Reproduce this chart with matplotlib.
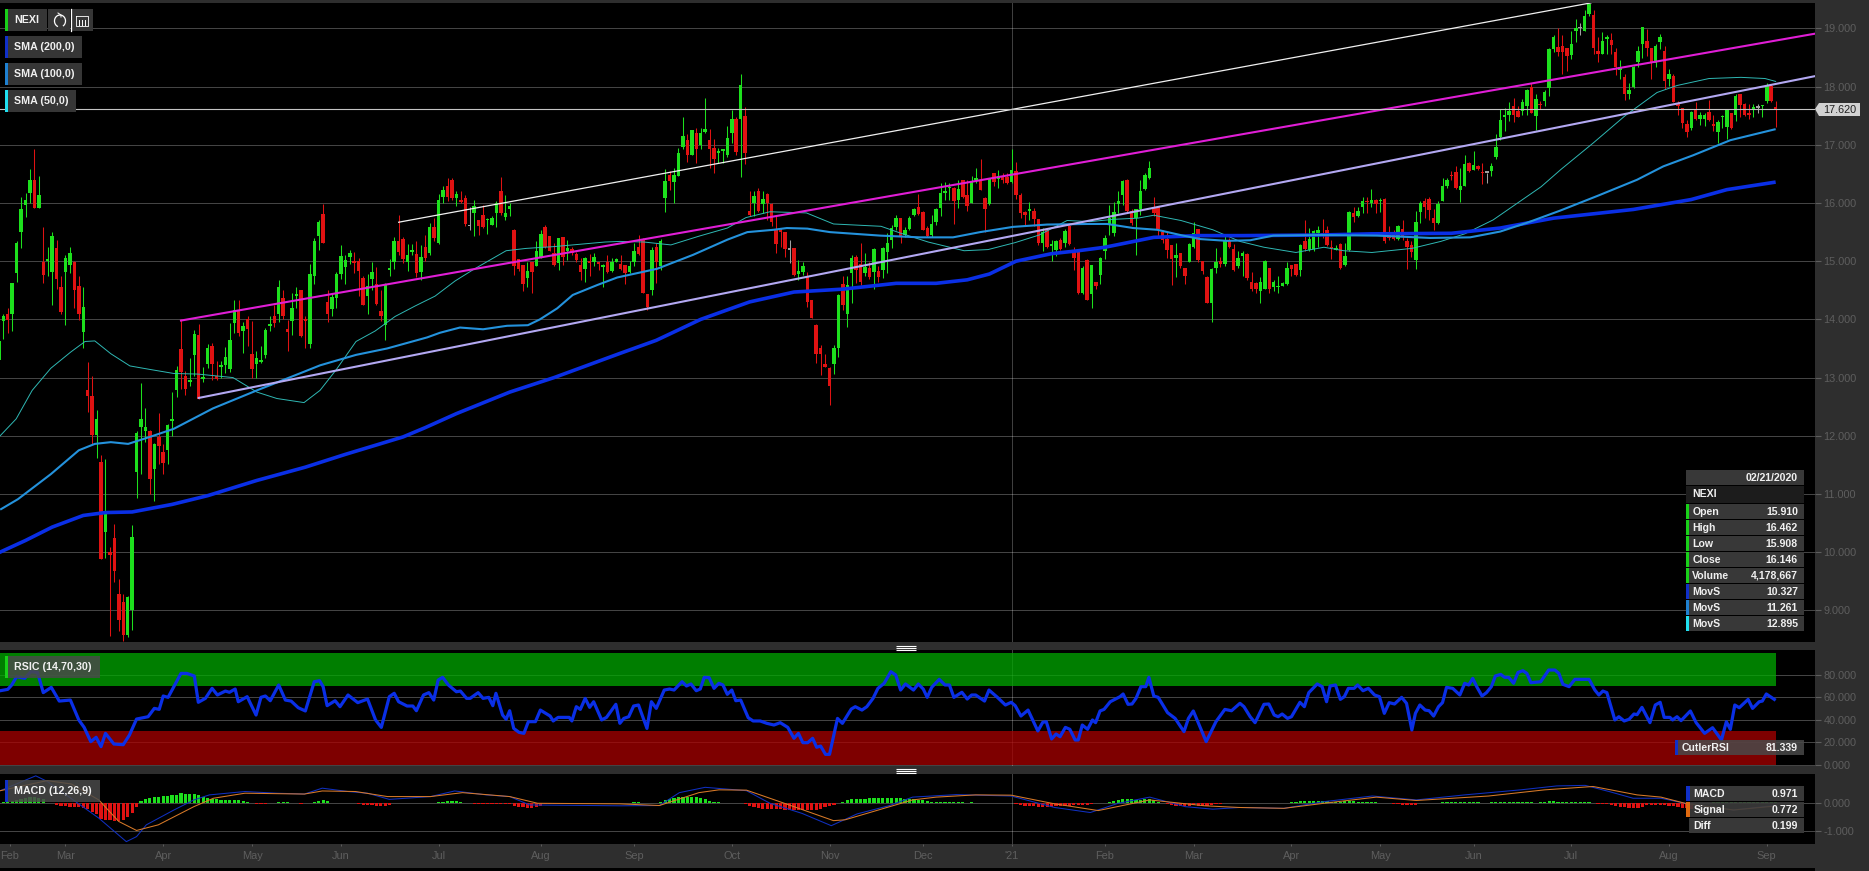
import matplotlib
matplotlib.use("Agg")
import matplotlib.pyplot as plt
from matplotlib.patches import Rectangle, Arc, Polygon

plt.rcParams['font.family'] = ['Liberation Sans', 'DejaVu Sans']

# ---- daily candles, session 0 .. 400 ----
opens = [
13.3,13.97,14.1,14.1,14.79,15.5,15.97,16.17,16.4,15.91,
14.99,15.0,14.82,15.22,14.55,14.82,14.94,14.99,14.58,13.79,
12.78,12.68,12.02,11.55,10.34,10.01,10.25,9.28,9.15,8.57,
9.0,11.37,12.15,12.09,12.09,11.43,11.98,11.72,11.75,12.25,
12.78,13.49,13.02,12.92,13.38,13.73,12.98,13.24,13.55,13.02,
13.18,13.22,13.14,13.94,14.15,13.8,14.0,13.4,13.23,13.27,
13.39,13.88,14.06,14.09,14.36,13.84,13.98,14.4,14.5,14.0,
13.57,14.74,15.44,15.81,14.3,14.17,14.36,14.78,14.9,15.08,
15.01,15.01,14.71,14.4,14.69,14.61,14.14,13.9,14.85,14.98,
15.35,15.38,14.99,15.15,15.13,14.81,15.24,15.14,15.59,15.31,
16.1,16.3,16.4,16.09,16.04,16.09,15.6,15.82,15.7,15.79,
15.7,15.63,15.83,16.2,15.76,15.9,15.54,15.03,14.94,14.71,
14.98,14.92,15.05,15.58,15.43,15.14,14.97,15.41,15.18,15.21,
15.12,14.94,14.87,15.0,14.98,14.97,14.9,14.99,14.84,14.99,
14.95,14.93,14.82,14.98,15.24,15.37,14.44,14.5,15.25,14.91,
16.09,16.49,16.36,16.47,16.97,17.08,16.83,17.21,17.0,17.22,
17.08,16.95,16.86,16.89,16.82,17.2,17.45,17.44,17.5,15.86,
16.0,16.2,15.98,16.16,15.99,15.54,15.52,15.51,15.2,15.22,
14.78,14.82,14.75,14.33,13.9,13.5,13.23,13.17,13.24,13.5,
14.61,14.1,14.8,15.08,14.95,14.79,14.88,14.82,14.83,14.85,
15.15,15.37,15.59,15.74,15.45,15.55,15.8,15.94,15.84,15.57,
15.45,15.68,15.91,16.17,16.25,16.26,16.06,16.4,16.13,16.0,
16.4,16.4,16.09,15.99,16.51,16.41,16.45,16.45,16.36,16.55,
16.14,15.84,15.87,15.87,15.73,15.31,15.54,15.26,15.2,15.36,
15.32,15.61,15.18,15.18,14.45,15.02,14.44,14.65,14.76,15.17,
15.63,15.49,15.99,16.14,16.4,15.86,15.75,15.9,16.24,16.43,
15.93,15.93,15.51,15.38,15.27,15.05,15.14,14.88,14.99,15.25,
15.55,15.0,14.72,14.29,14.89,15.01,14.96,15.34,15.21,14.91,
15.09,15.13,14.65,14.63,14.48,14.53,14.88,14.55,14.55,14.57,
14.61,14.94,14.95,14.85,15.34,15.2,15.21,15.48,15.48,15.54,
15.25,15.2,15.3,14.94,15.2,15.83,15.78,15.94,16.04,16.0,
16.06,16.03,16.07,15.48,15.47,15.38,15.55,15.34,15.28,15.02,
15.84,16.04,16.07,15.74,15.66,16.04,16.29,16.49,16.53,16.22,
16.29,16.69,16.57,16.63,16.53,16.52,16.55,16.79,17.14,17.48,
17.52,17.66,17.59,17.59,17.67,18.0,17.5,17.7,17.75,17.97,
18.65,18.69,18.7,18.66,18.54,18.95,19.0,18.95,19.25,19.24,
18.62,18.57,18.82,18.81,18.6,18.29,18.17,17.87,17.99,18.43,
18.74,18.79,18.67,18.4,18.76,18.62,18.13,18.19,17.7,17.64,
17.35,17.29,17.61,17.44,17.45,17.56,17.36,17.22,17.47,17.31,
17.54,17.51,17.87,17.71,17.54,17.62,17.63,17.66,17.75,18.02,
17.64]
highs = [
13.79,14.09,14.19,14.63,15.34,16.1,16.17,16.59,16.92,16.46,
15.59,15.25,15.51,15.37,14.74,15.11,15.24,15.0,14.74,14.55,
13.26,13.03,12.44,11.67,11.6,10.08,10.48,9.53,9.28,9.24,
10.46,12.09,12.9,12.48,12.1,11.87,12.39,11.86,12.2,12.75,
13.2,14.0,13.12,13.33,13.82,13.92,13.18,13.58,13.6,13.28,
13.28,13.52,13.94,14.34,14.33,13.95,14.05,13.97,13.45,13.55,
13.85,14.05,14.25,14.67,14.5,13.99,14.45,14.55,14.5,14.05,
14.95,15.4,15.7,15.98,14.5,14.45,14.82,15.27,15.1,15.2,
15.16,15.05,14.75,14.78,14.99,14.9,14.5,14.63,15.03,15.42,
15.8,15.42,15.3,15.3,15.35,15.27,15.45,15.65,15.75,16.15,
16.29,16.43,16.43,16.2,16.2,16.14,15.94,16.06,15.71,15.97,
15.74,15.77,16.03,16.44,16.14,16.0,15.55,15.03,14.94,14.99,
14.98,15.34,15.54,15.63,15.43,15.31,15.4,15.41,15.37,15.25,
15.15,15.05,15.07,15.12,15.14,14.98,14.96,15.11,15.05,15.06,
15.11,14.94,15.0,15.31,15.45,15.4,14.44,15.25,15.31,15.38,
16.59,16.55,16.6,16.94,17.47,17.18,17.26,17.29,17.29,17.81,
17.27,17.1,16.95,16.92,17.32,17.6,17.47,18.21,17.65,16.2,
16.2,16.26,16.2,16.17,16.0,15.77,15.57,15.51,15.37,15.22,
15.02,14.98,14.82,14.34,13.92,13.56,13.41,13.18,13.56,14.44,
14.74,14.74,15.11,15.11,15.31,15.14,14.99,15.22,14.91,15.25,
15.49,15.63,15.8,15.74,15.59,15.77,15.91,16.16,15.86,15.6,
15.8,15.91,16.35,16.36,16.35,16.28,16.39,16.4,16.4,16.47,
16.6,16.76,16.1,16.43,16.52,16.56,16.52,16.52,16.93,16.7,
16.17,15.86,16.02,15.91,15.73,15.57,15.55,15.37,15.37,15.4,
15.55,15.62,15.24,15.18,14.91,15.03,14.94,14.65,15.08,15.45,
15.97,16.01,16.2,16.4,16.41,15.89,15.9,16.39,16.52,16.72,
16.1,15.93,15.54,15.51,15.27,15.31,15.14,14.88,15.32,15.68,
15.55,15.0,14.75,14.88,15.22,15.07,15.43,15.4,15.3,15.17,
15.17,15.14,14.82,14.65,14.72,15.02,14.88,14.68,14.75,14.65,
14.99,14.94,14.95,15.3,15.7,15.57,15.54,15.6,15.72,15.6,
15.37,15.28,15.31,15.31,15.87,15.93,15.94,16.1,16.11,16.24,
16.07,16.09,16.09,15.61,15.54,15.62,15.71,15.4,15.34,15.87,
16.04,16.09,16.11,15.89,16.03,16.43,16.43,16.55,16.63,16.6,
16.83,16.7,16.89,16.66,16.69,16.52,16.69,17.18,17.62,17.64,
17.74,17.81,17.67,17.78,17.96,18.06,17.87,17.75,17.94,18.66,
18.89,19.01,18.89,18.66,18.96,19.17,19.09,19.31,19.44,19.32,
18.85,18.94,18.89,18.92,18.67,18.46,18.21,18.06,18.36,18.7,
19.03,18.99,18.67,18.73,18.9,18.7,18.31,18.21,17.75,17.64,
17.43,17.58,17.74,17.56,17.55,17.77,17.52,17.43,17.52,17.62,
17.55,17.87,17.88,17.72,17.7,17.71,17.7,17.69,18.07,18.04,
17.75]
lows = [
13.3,13.67,13.76,13.8,14.65,15.22,15.76,16.0,15.91,15.91,
14.63,14.74,14.24,14.53,14.1,13.91,14.79,14.19,13.99,13.5,
12.41,11.86,11.61,9.88,9.9,8.56,9.48,8.64,8.47,8.54,
8.66,10.93,11.34,11.9,11.0,10.87,11.52,11.34,11.52,11.99,
12.67,12.8,12.7,12.85,13.02,12.64,12.92,13.16,12.95,12.95,
13.0,13.08,13.1,13.76,13.72,13.42,13.55,13.0,13.0,13.25,
13.33,13.8,13.87,13.95,14.0,13.45,13.73,14.2,13.7,13.5,
13.5,14.6,15.2,15.31,13.95,14.05,14.2,14.7,14.6,14.95,
14.8,14.4,14.25,14.1,14.5,14.25,13.98,13.65,14.75,14.87,
15.1,14.97,14.83,15.1,14.72,14.68,15.0,15.1,15.35,15.3,
16.0,16.03,16.05,15.95,16.0,15.6,15.54,15.44,15.45,15.57,
15.47,15.62,15.59,15.8,15.71,15.77,14.76,14.84,14.48,14.56,
14.46,14.91,15.05,15.22,15.17,14.91,14.85,14.94,15.02,15.11,
14.99,14.68,14.65,14.74,14.91,14.85,14.55,14.8,14.82,14.98,
14.85,14.61,14.79,14.91,15.11,14.45,14.16,14.42,14.62,14.85,
15.84,16.23,16.0,16.46,16.92,16.7,16.83,16.69,16.92,17.21,
16.6,16.52,16.69,16.69,16.79,17.04,16.83,16.45,16.67,15.77,
15.77,15.84,15.83,15.71,15.6,15.14,15.25,15.07,14.97,14.74,
14.67,14.76,14.22,14.03,13.25,13.04,13.18,12.53,13.06,13.36,
14.16,13.87,14.28,14.62,14.59,14.74,14.69,14.53,14.65,14.71,
14.79,15.22,15.54,15.32,15.41,15.54,15.77,15.8,15.53,15.41,
15.41,15.63,15.77,16.06,16.06,15.64,15.91,16.09,15.87,16.0,
16.35,16.23,15.51,15.97,16.29,16.26,16.35,16.33,16.35,16.07,
15.74,15.6,15.71,15.61,15.28,15.17,15.22,15.0,15.09,15.19,
15.25,15.28,14.85,14.44,14.44,14.33,14.19,14.53,14.6,15.04,
15.45,15.44,15.83,15.97,15.83,15.63,15.1,15.8,16.22,16.41,
15.77,15.44,15.32,15.05,14.59,14.72,14.88,14.6,14.98,15.22,
14.98,14.78,14.29,13.95,14.79,14.9,14.91,15.22,14.84,14.88,
14.74,14.68,14.48,14.45,14.28,14.52,14.45,14.48,14.45,14.57,
14.59,14.74,14.75,14.74,15.17,15.17,15.17,15.25,15.4,15.26,
15.03,15.19,14.86,14.91,15.17,15.67,15.76,15.83,15.83,15.94,
15.83,15.84,15.31,15.37,15.36,15.37,15.37,14.86,15.08,14.86,
15.66,15.74,15.71,15.54,15.64,16.03,16.26,16.4,16.24,16.01,
16.29,16.54,16.56,16.56,16.32,16.35,16.46,16.75,17.09,17.24,
17.41,17.39,17.47,17.52,17.52,17.55,17.25,17.62,17.66,17.84,
18.6,18.53,18.21,18.27,18.47,18.77,18.89,18.95,19.22,18.56,
18.43,18.56,18.56,18.56,18.2,18.13,17.77,17.79,17.98,18.33,
18.5,18.52,18.14,18.33,18.65,17.96,18.01,17.73,17.52,17.29,
17.14,17.26,17.42,17.34,17.32,17.41,17.24,17.04,17.29,17.1,
17.28,17.41,17.48,17.5,17.44,17.48,17.54,17.48,17.72,17.74,
17.31]
closes = [
13.63,14.06,13.99,14.63,15.31,15.9,16.05,16.39,15.91,16.14,
14.76,15.02,15.44,14.7,14.13,15.05,15.14,14.51,14.09,14.22,
12.68,12.02,12.29,9.88,10.71,9.95,9.67,8.84,8.57,9.22,
10.26,12.05,12.29,12.15,11.26,11.86,11.83,11.53,12.18,12.29,
13.13,13.1,12.8,12.96,13.75,12.64,13.0,13.5,13.24,12.98,
13.22,13.36,13.65,14.16,13.76,13.88,13.83,13.15,13.34,13.3,
13.81,13.92,13.94,14.55,14.05,13.79,14.19,14.42,13.72,13.98,
14.78,15.34,15.67,15.31,14.1,14.38,14.78,15.09,15.02,15.14,
14.97,14.83,14.25,14.57,14.82,14.26,14.06,14.61,14.88,15.34,
15.16,15.03,15.11,15.2,14.79,15.08,15.05,15.58,15.4,16.06,
16.23,16.1,16.09,16.16,16.02,15.64,15.6,15.95,15.61,15.59,
15.72,15.75,16.0,15.83,15.82,15.95,14.91,14.87,14.61,14.83,
14.82,15.17,15.47,15.24,15.17,14.94,15.4,15.08,15.22,15.14,
15.02,14.81,15.05,14.97,15.08,14.95,14.92,14.82,14.98,15.04,
14.86,14.79,14.91,15.18,15.13,14.45,14.21,15.2,14.98,15.34,
16.37,16.37,16.49,16.86,17.15,16.83,17.25,16.92,17.2,17.27,
16.92,16.76,16.89,16.92,17.11,17.44,16.88,18.03,16.86,15.8,
16.12,15.86,16.07,16.0,15.67,15.3,15.5,15.21,15.2,14.76,
14.83,14.91,14.3,14.03,13.41,13.4,13.19,12.85,13.5,14.42,
14.25,14.59,15.06,14.85,14.65,14.9,14.72,15.21,14.73,15.22,
15.31,15.57,15.74,15.44,15.54,15.74,15.89,15.81,15.54,15.43,
15.64,15.89,16.17,16.2,16.28,16.03,16.24,16.1,15.95,16.37,
16.42,16.23,15.9,16.41,16.36,16.47,16.39,16.35,16.56,16.14,
15.82,15.79,15.9,15.73,15.31,15.51,15.24,15.28,15.34,15.21,
15.52,15.29,15.05,14.45,14.88,14.33,14.94,14.57,15.06,15.4,
15.74,15.84,16.03,16.37,15.86,15.66,15.89,16.2,16.49,16.6,
15.82,15.56,15.36,15.2,15.03,15.11,14.91,14.75,15.29,15.48,
15.02,14.84,14.29,14.86,14.99,14.95,15.34,15.25,14.85,15.05,
15.14,14.71,14.52,14.52,14.64,15.01,14.52,14.65,14.57,14.63,
14.88,14.87,14.76,15.28,15.21,15.38,15.52,15.54,15.45,15.28,
15.22,15.22,14.89,15.09,15.84,15.76,15.86,16.04,16.01,16.06,
15.99,16.06,15.34,15.4,15.38,15.61,15.44,15.24,15.15,15.67,
16.0,15.93,15.88,15.66,15.98,16.29,16.4,16.46,16.26,16.29,
16.67,16.55,16.65,16.59,16.51,16.52,16.63,16.96,17.43,17.52,
17.59,17.51,17.48,17.74,17.94,17.55,17.79,17.68,17.91,18.65,
18.86,18.6,18.59,18.53,18.74,19.01,19.0,19.22,19.42,18.67,
18.56,18.79,18.86,18.71,18.33,18.33,17.87,17.95,18.33,18.62,
19.02,18.66,18.41,18.7,18.86,18.1,18.21,17.74,17.66,17.37,
17.22,17.57,17.44,17.51,17.51,17.43,17.33,17.39,17.48,17.6,
17.29,17.84,17.68,17.52,17.52,17.64,17.63,17.67,18.02,17.75,
17.62]
assert len(opens) == len(highs) == len(lows) == len(closes), (len(opens), len(highs), len(lows), len(closes))

# ---- moving averages: session, value ----
sma200_x = [0,6,12,19,24,30,39,47,58,69,78,91,96,103,115,125,140,148,158,169,179,190,202,211,218,223,229,237,243,249,260,270,280,297,309,327,338,350,368,381,389,400]
sma200_y = [9.99,10.2,10.43,10.63,10.68,10.69,10.82,10.97,11.23,11.46,11.68,11.98,12.14,12.38,12.75,13.0,13.42,13.64,14.0,14.3,14.47,14.52,14.62,14.62,14.68,14.78,15.0,15.13,15.18,15.24,15.41,15.44,15.44,15.45,15.47,15.48,15.57,15.74,15.89,16.06,16.23,16.36]
sma100_x = [0.3,4.3,11.7,18,21.6,25.2,29.1,34,39.4,48.2,58.1,68.7,72.3,80.4,87.4,96.4,99.3,103.8,109,114.4,119.1,121.8,125.7,129.2,134.7,139.2,148.2,156.3,164,168.5,174.4,177.4,182,187.1,198.4,207.4,214.8,220.9,228.3,236,245,249.5,255.4,260.8,266,270.5,276.5,281.7,286.9,297.4,310.3,322.2,331.2,338,344,351.5,359.8,368.8,374.7,381.4,389.8,400]
sma100_y = [10.73,10.91,11.34,11.75,11.86,11.89,11.86,11.98,12.12,12.47,12.78,13.1,13.21,13.39,13.5,13.69,13.77,13.86,13.83,13.89,13.9,14.0,14.19,14.42,14.59,14.72,14.87,15.11,15.37,15.5,15.54,15.57,15.56,15.5,15.44,15.41,15.41,15.5,15.59,15.63,15.64,15.64,15.57,15.54,15.45,15.38,15.35,15.36,15.44,15.45,15.44,15.4,15.41,15.51,15.66,15.87,16.12,16.4,16.63,16.82,17.08,17.27]
sma50_x = [0.3,3.9,7.5,11.7,16.2,19.4,21.6,25.2,29.5,34,39.4,44.8,52.7,58.1,62.6,68.7,72.3,75.9,80.4,84.7,89.2,93.7,98.2,102.7,106.9,114.2,118.7,124.8,136.5,139.8,145.2,151.3,157.6,164,168.2,173.6,181.8,187.9,198.6,203.1,209.2,217.3,222.7,228.8,234.2,240.5,245.6,251,256.4,260,266.1,273.3,279.4,284.8,292,298.3,302.8,309.1,318.1,324.6,330,336.4,347.2,351.7,358.9,366.1,373.3,377.8,385,392.2,397.6,400]
sma50_y = [12.0,12.29,12.78,13.16,13.44,13.62,13.63,13.41,13.2,13.14,13.07,13.06,13.0,12.75,12.64,12.57,12.78,13.13,13.62,13.8,14.05,14.23,14.4,14.66,14.86,15.18,15.22,15.25,15.33,15.34,15.33,15.28,15.43,15.57,15.75,15.85,15.83,15.64,15.6,15.48,15.33,15.18,15.2,15.32,15.45,15.7,15.68,15.72,15.74,15.79,15.7,15.54,15.34,15.24,15.15,15.24,15.18,15.15,15.22,15.34,15.47,15.71,16.28,16.58,17.03,17.5,17.9,18.02,18.14,18.16,18.14,18.09]

# ---- drawn trend lines: two ends, session, price ----
magenta_x, magenta_y = [41, 408.8], [13.98, 18.91]
lavender_x, lavender_y = [45, 408.8], [12.65, 18.18]
white_x, white_y = [90, 358.4], [15.67, 19.44]
last_price = 17.62
year_session = 228

# ---- RSI ----
rsi_x = [0.3,2.0,2.9,4.0,5.8,7.2,8.7,10.0,11.8,13.6,16.1,18.0,19.2,20.7,21.9,23.0,24.0,25.9,28.0,29.4,31.0,33.6,35.0,36.1,37.0,38.1,39.6,41.0,42.3,44.0,44.9,46.5,48.0,49.2,51.0,51.9,53.2,53.9,55.9,57.9,59.0,60.0,61.1,63.0,64.5,65.8,67.4,69.0,71.0,72.2,73.0,73.9,75.7,76.8,78.6,80.8,83.0,84.8,86.1,87.9,89.0,90.0,91.9,93.2,94.0,95.6,96.8,97.9,98.9,99.9,101.2,103.0,103.9,105.3,106.1,107.9,109.0,110.3,111.2,111.9,113.4,114.2,115.0,115.9,117.1,118.2,119.2,120.8,121.9,124.1,124.8,125.9,128.4,129.0,130.0,130.9,132.0,133.0,133.9,135.7,136.8,138.9,
139.8,140.7,141.8,142.9,144.0,145.9,146.9,148.0,149.8,151.0,152.0,153.8,154.8,155.8,157.0,157.9,158.8,159.9,161.0,162.1,163.0,164.0,165.0,165.9,167.0,168.7,169.8,171.4,172.9,174.5,175.9,177.6,179.0,180.0,181.0,182.1,183.2,184.1,185.0,186.1,187.0,188.8,189.9,191.9,192.8,194.3,195.4,196.8,197.9,199.3,200.8,201.9,203.0,204.1,205.9,207.0,208.1,209.0,210.0,211.7,213.0,214.0,215.0,216.8,218.0,219.0,219.9,221.9,222.9,224.8,226.6,227.9,228.8,230.1,231.7,233.9,235.0,235.8,237.0,238.0,238.9,240.1,241.1,242.3,243.0,243.9,245.1,246.2,246.9,247.9,248.8,250.2,252.4,253.1,254.2,255.1,256.0,257.1,258.2,258.9,260.0,261.0,263.1,264.8,266.8,267.8,268.9,271.8,274.0,276.0,277.5,
279.4,280.3,281.7,282.8,284.8,285.9,287.1,288.0,288.9,290.1,291.0,292.9,293.9,294.9,296.8,297.9,298.9,299.7,300.9,302.0,302.9,303.8,305.1,305.9,307.1,308.3,309.7,310.8,311.9,313.0,314.2,315.8,316.9,318.1,318.9,319.9,321.1,322.0,323.0,324.1,325.0,325.9,327.3,328.9,330.0,330.9,331.8,332.7,333.9,334.9,336.0,336.9,338.1,339.0,339.9,341.0,342.0,343.1,344.0,344.9,347.1,348.9,350.3,351.2,352.1,353.5,354.8,358.0,359.3,360.2,361.1,362.0,363.8,364.7,365.9,367.0,368.1,368.8,369.9,371.7,372.9,374.0,374.9,376.2,376.8,377.8,378.7,380.8,382.1,384.0,385.8,387.8,388.9,389.8,390.8,391.8,393.8,394.8,396.3,397.0,397.9,399.7]
rsi_y = [65.6,66.8,70.7,78.1,76.6,82.5,81.9,63.9,68.6,56.4,57.3,39.6,33.0,20.3,24.2,15.9,27.7,18.2,17.6,26.2,40.4,42.5,49.9,49.0,60.9,59.7,70.7,81.0,81.0,78.7,55.3,58.8,67.7,61.8,65.3,64.2,67.1,55.8,60.3,44.0,59.7,60.9,56.7,70.7,57.3,56.4,50.5,47.6,73.6,74.5,69.2,52.3,56.7,51.4,61.8,55.0,58.2,39.6,33.0,60.3,63.3,55.8,52.0,52.0,47.8,61.8,63.9,57.3,75.1,77.5,70.7,64.7,65.3,58.8,58.8,63.9,58.8,59.7,52.3,63.3,44.0,40.2,47.8,32.1,28.6,27.7,38.1,38.1,48.4,43.1,38.7,41.9,41.9,38.7,51.4,49.0,58.8,50.8,55.8,39.6,41.9,53.5,
36.6,41.0,42.5,52.0,52.9,32.1,55.8,49.9,66.2,67.1,66.2,73.6,69.8,71.6,65.6,67.1,77.5,77.2,67.7,72.2,70.7,62.4,66.2,56.7,57.3,41.6,38.7,38.7,36.6,35.1,37.2,33.0,23.3,27.7,19.4,19.4,23.3,15.3,16.4,9.0,9.0,41.0,36.6,49.3,51.4,48.4,51.4,58.8,67.7,72.2,82.5,79.6,66.2,71.6,66.2,71.6,67.1,59.7,68.6,75.7,70.7,70.7,59.7,64.2,58.2,61.8,61.8,56.4,66.2,59.7,52.9,55.3,52.3,43.1,48.4,29.8,37.5,38.1,22.7,27.1,24.7,33.0,31.3,21.8,21.8,35.1,31.3,39.6,37.2,47.6,49.0,55.8,60.3,62.7,53.5,53.8,58.8,69.2,69.2,77.5,60.9,59.7,46.1,41.0,29.2,41.0,47.6,20.3,38.1,49.0,47.8,
54.4,51.4,42.5,37.2,53.5,53.8,44.0,42.5,44.9,41.0,42.5,55.3,51.4,63.9,71.6,69.2,55.8,69.8,70.7,57.9,60.3,67.7,67.7,70.7,65.6,67.7,61.8,60.3,45.5,55.0,53.8,59.7,54.4,30.7,45.5,52.9,48.4,47.8,43.1,51.4,55.0,68.6,67.7,61.8,72.2,70.7,76.6,69.2,60.9,63.9,69.2,78.7,80.1,77.5,77.5,72.2,81.9,83.4,81.0,72.7,73.6,84.0,84.0,81.0,71.3,69.2,75.7,75.7,66.2,61.8,65.3,63.9,39.6,42.5,38.7,40.2,44.9,44.3,50.8,37.2,52.9,55.3,41.9,41.9,39.6,42.5,39.0,47.6,37.2,27.7,32.7,21.8,38.1,31.3,52.9,50.5,57.9,49.9,55.8,56.4,62.7,57.9]
assert len(rsi_x) == len(rsi_y), (len(rsi_x), len(rsi_y))

# ---- MACD ----
macd_x = [0.3,8.3,10.9,22.5,28.7,31,33.2,39.4,43.9,47.4,55.4,62.5,68.8,72.8,78.6,83,87.9,97.2,102.6,109.7,115,119.5,133.7,139.8,148.7,153.2,159,168.3,173.6,180.8,187.4,193.2,200.3,205.7,215.5,227.9,237.7,245.7,252,259.1,267.1,273.3,279.3,289.3,298.4,309.2,319.1,330,342.6,350.7,357.1,362.5,367.9,374.2,379.6,390.5,399.7]
macd_y = [0.45,0.98,0.78,-0.53,-1.37,-1.19,-0.77,-0.24,0.12,0.3,0.42,0.36,0.33,0.54,0.42,0.36,0.14,0.24,0.44,0.3,0.24,-0.06,-0.08,-0.09,-0.08,0.38,0.57,0.45,0,-0.36,-0.8,-0.38,-0.09,0.22,0.31,0.26,-0.15,-0.33,0,0.22,-0.12,-0.21,-0.15,-0.18,0.06,0.26,0.12,0.3,0.48,0.62,0.64,0.42,0.18,0.18,0,-0.24,-0.08]
signal_x = [0.3,10.9,16.3,22.5,27,31,35.9,43.9,48.3,55.4,68.8,72.8,80.3,87.5,97.2,104.4,115,121.3,139.8,148.7,157.6,162.1,168.3,177.2,187.9,190.5,205.7,211,219.9,227.9,237.7,247.5,259.1,271.5,279.3,289.3,299.3,310.1,319.1,335.4,348,358.9,368.8,374.2,379.6,390.5,399.7]
signal_y = [0.45,0.81,0.69,0.12,-0.65,-0.97,-0.77,-0.12,0.18,0.36,0.33,0.44,0.42,0.24,0.24,0.38,0.24,0,-0.02,-0.08,0.38,0.48,0.47,-0.02,-0.62,-0.59,0.12,0.22,0.3,0.29,-0.02,-0.26,0.12,-0.09,-0.15,-0.18,0.02,0.22,0.1,0.26,0.48,0.6,0.3,0.22,0,-0.24,-0.1]
# runs of the histogram: first session, values per session
hist_runs = [
 (0,[0.03,0.03,0.05,0.08,0.12,0.17,0.2,0.22,0.22,0.2,0.15]),
 (13,[-0.05,-0.08,-0.1,-0.12,-0.13,-0.15,-0.17,-0.2,-0.3,-0.4,-0.55,-0.6,-0.6,-0.62,-0.62,-0.6,-0.5,-0.35,-0.15]),
 (32,[0.08,0.14,0.18,0.22,0.24,0.25,0.27,0.29,0.3,0.35,0.34,0.33,0.33,0.28,0.24,0.2,0.17,0.15,0.12,0.1,0.12,0.12,0.11,0.08,0.04]),
 (58,[-0.01,-0.03,-0.02]),
 (63,[0.04,0.05,0.03,0.02]),
 (68,[-0.03]),
 (71,[0.05,0.09,0.1,0.08]),
 (81,[-0.04,-0.05,-0.06,-0.06,-0.08,-0.1,-0.09,-0.07]),
 (98,[0.02,0.04,0.06,0.07,0.07,0.07,0.05,0.02]),
 (107,[-0.02,-0.03,-0.04,-0.03,-0.02,-0.03,-0.03,-0.02,-0.03,-0.08,-0.12,-0.15,-0.18,-0.18,-0.15,-0.08]),
 (123,[-0.02,-0.02,-0.03,-0.02,-0.02,-0.03,-0.02,-0.02]),
 (143,[0.03,0.03]),
 (149,[0.04,0.12,0.15,0.2,0.22,0.22,0.24,0.22,0.22,0.2,0.14,0.08,0.06,0.03]),
 (168,[-0.03,-0.1,-0.12,-0.16,-0.2,-0.2,-0.2,-0.2,-0.2,-0.24,-0.24,-0.24,-0.24,-0.24,-0.24,-0.24,-0.24,-0.22,-0.15,-0.1,-0.05]),
 (190,[0.06,0.1,0.14,0.15,0.17,0.17,0.18,0.18,0.18,0.19,0.19,0.18,0.18,0.18,0.17,0.15,0.14,0.12,0.1,0.08,0.06,0.06,0.06,0.05,0.05,0.04,0.03,0.03,0.02,0.03,0.02]),
 (229,[-0.03,-0.07,-0.08,-0.1,-0.11,-0.12,-0.12,-0.13,-0.12,-0.11,-0.1,-0.1,-0.08,-0.07,-0.06,-0.05,-0.05,-0.03]),
 (250,[0.03,0.08,0.12,0.14,0.16,0.14,0.12,0.12,0.14,0.16,0.12,0.06]),
 (263,[-0.04,-0.07,-0.08,-0.08,-0.08,-0.08,-0.07,-0.08,-0.08,-0.1,-0.07,-0.04,-0.02]),
 (290,[0.01,0.03,0.05,0.07,0.08,0.09,0.09,0.09,0.08,0.07,0.06,0.05,0.06,0.08,0.08,0.07,0.06,0.06,0.05,0.04,0.03]),
 (314,[-0.03,-0.04,-0.05,-0.06,-0.07,-0.05]),
 (325,[0.03,0.04,0.05,0.05,0.05,0.04,0.05,0.04,0.03,0.02,0.02,0.03,0.05,0.05,0.06,0.06,0.06,0.05,0.04,0.03,0.03,0.02,0.03,0.06,0.07,0.07,0.05,0.04,0.03,0.03,0.03,0.03,0.03,0.03]),
 (360,[-0.02,-0.03,-0.04,-0.06,-0.09,-0.12,-0.15,-0.17,-0.18,-0.17,-0.12,-0.06,-0.06,-0.05,-0.05,-0.07,-0.08,-0.1,-0.13,-0.16,-0.18,-0.2]),
 (386,[0.03,0.03,0.03,0.03,0.03,0.03,0.03,0.03,0.03,0.03,0.03,0.03,0.03,0.03,0.03]),
]

month_sessions = [2.4,15,37,57,77,99,122,143,165,187,208,228,249,269,291,311,332,354,376,398]
month_labels = ['Feb','Mar','Apr','May','Jun','Jul','Aug','Sep','Oct','Nov','Dec',"'21",'Feb','Mar','Apr','May','Jun','Jul','Aug','Sep']
price_ticks = [9,10,11,12,13,14,15,16,17,18,19]
rsi_ticks = [0,20,40,60,80]
macd_ticks = [-1,0]

info_labels = ['Open','High','Low','Close','Volume','MovS','MovS','MovS']
info_values = ['15.910','16.462','15.908','16.146','4,178,667','10.327','11.261','12.895']

# ---- layout (pixels) ----
W, H = 1869, 871
BG = '#2e2e2e'
TXT = '#5e5e5e'
GREEN, RED, GREY = '#1de01d', '#e01212', '#a0a0a0'
BLUE, MID, CYAN = '#0a2fe6', '#2492dc', '#2fb8b4'
X0 = 1 - 3.3 / 4.442
X1 = 1 + (1815 - 3.3) / 4.442

fig = plt.figure(figsize=(W / 100, H / 100), dpi=100, facecolor=BG)

def pane(top, bottom):
    ax = fig.add_axes([0, 1 - bottom / H, 1815 / W, (bottom - top) / H], facecolor='black')
    ax.set_xlim(X0, X1)
    for s in ax.spines.values():
        s.set_visible(False)
    ax.yaxis.tick_right()
    ax.tick_params(axis='y', length=4, width=0.8, color=TXT, labelcolor=TXT, labelsize=7.8, pad=2)
    ax.grid(True, axis='y', color='white', alpha=0.27, lw=0.75, zorder=2)
    ax.set_axisbelow(False)
    ax.set_xticks([])
    ax.axvline(year_session, color='white', alpha=0.25, lw=0.75, zorder=2)
    return ax

# main pane
ax = pane(3, 642)
ax.set_ylim(8.455, 19.438)
ax.set_yticks(price_ticks)
ax.set_yticklabels([f'{v:.3f}' for v in price_ticks])
sessions = list(range(len(opens)))
cols = [GREEN if c > o else (RED if c < o else GREY) for o, c in zip(opens, closes)]
ax.vlines(sessions, lows, highs, colors=cols, lw=0.75, zorder=3)
ax.bar(sessions, [max(abs(c - o), 0.03) for o, c in zip(opens, closes)],
       bottom=[min(o, c) for o, c in zip(opens, closes)],
       width=0.78, color=cols, linewidth=0, zorder=4)
ax.plot(sma50_x, sma50_y, color=CYAN, lw=0.7, zorder=5)
ax.plot(sma200_x, sma200_y, color=BLUE, lw=2.6, zorder=5, solid_capstyle='butt')
ax.plot(sma100_x, sma100_y, color=MID, lw=1.5, zorder=5, solid_capstyle='butt')
ax.plot(magenta_x, magenta_y, color='#e01ed6', lw=1.5, zorder=6)
ax.plot(lavender_x, lavender_y, color='#b3a8f2', lw=1.5, zorder=6)
ax.plot(white_x, white_y, color='#f0f0f0', lw=0.9, zorder=6)
ax.axhline(last_price, color='#c4c4c4', lw=0.8, zorder=6)

# RSI pane: bands sit above the grid, translucent, so the lines show faintly
ar = pane(650, 766)
ar.set_ylim(-1.33, 101.8)
ar.set_yticks(rsi_ticks)
ar.set_yticklabels([f'{v:.3f}' for v in rsi_ticks])
ar.add_patch(Rectangle((X0, 70), 400 - X0, 29.5, facecolor='#00aa00', alpha=0.75, lw=0, zorder=3))
ar.add_patch(Rectangle((X0, 0), 400 - X0, 30, facecolor='#aa0000', alpha=0.75, lw=0, zorder=3))
ar.plot(rsi_x, rsi_y, color=BLUE, lw=2.3, zorder=4)

# MACD pane
am = pane(774, 844)
am.set_ylim(-1.454, 1.046)
am.set_yticks(macd_ticks)
am.set_yticklabels([f'{v:.3f}' for v in macd_ticks])
for start, vals in hist_runs:
    xs = [start + k for k in range(len(vals))]
    am.bar(xs, vals, width=0.72, color=[GREEN if v > 0 else RED for v in vals], linewidth=0, zorder=3)
am.plot(macd_x, macd_y, color='#1030c0', lw=0.75, zorder=4)
am.plot(signal_x, signal_y, color='#d87a28', lw=0.75, zorder=5)
am.set_xticks(month_sessions)
am.set_xticklabels(month_labels)
am.tick_params(axis='x', length=1.6, width=0.7, color=TXT, labelcolor=TXT, labelsize=7.9, pad=3.5)

# ---- interface chrome, in pixel coordinates ----
ov = fig.add_axes([0, 0, 1, 1], facecolor='none', zorder=20)
ov.set_xlim(0, W)
ov.set_ylim(H, 0)
ov.axis('off')

def box(x0, y0, x1, y1, color, alpha=1.0, z=1):
    ov.add_patch(Rectangle((x0, y0), x1 - x0, y1 - y0, facecolor=color, edgecolor='none', alpha=alpha, zorder=z))

def txt(x, y, s, ha='left', size=7.7, color='#f0f0f0', weight='bold'):
    ov.text(x, y, s, ha=ha, va='center', fontsize=size, color=color, weight=weight, zorder=5)

box(0, 868, 1815, 871, 'black')

# legend chips
chips = [('NEXI', 9, 31, 47, '#19d019'), ('SMA (200,0)', 36, 58, 82, '#1030c8'),
         ('SMA (100,0)', 63, 85, 82, '#1f80d0'), ('SMA (50,0)', 90, 112, 76, '#20e0f0')]
for label, y0, y1, x1, col in chips:
    box(5, y0, x1, y1, '#363636')
    box(5, y0, 8, y1, col, z=2)
    txt(14, (y0 + y1) / 2 + 0.3, label)
box(47.5, 9, 70, 31, '#363636')
box(71.5, 9, 93, 31, '#363636')
ov.plot([70.7, 70.7], [9, 31], color='white', lw=0.9, zorder=3)
ov.add_patch(Arc((60, 21), 11, 12, angle=0, theta1=-250, theta2=60, color='white', lw=0.9, zorder=3))
ov.plot([58, 61, 61], [13, 15, 17], color='white', lw=0.7, zorder=3)
ov.plot([76, 88, 88, 76, 76], [16, 16, 26, 26, 16], color='white', lw=0.6, zorder=3)
for xx in (79, 82, 85):
    ov.plot([xx, xx], [20, 25], color='white', lw=0.7, zorder=3)

box(5, 656, 100, 678, '#4a4a4a', alpha=0.85)
box(5, 656, 8, 678, '#19d019', z=2)
txt(14, 667, 'RSIC (14,70,30)')
box(5, 780, 100, 802, '#4a4a4a', alpha=0.85)
box(5, 780, 8, 802, '#1030c8', z=2)
txt(14, 791, 'MACD (12,26,9)')

# info table
TX0, TX1 = 1686, 1803.7
box(TX0, 470, TX1, 485, '#383838')
txt(1798, 477.7, '02/21/2020', ha='right', size=7.6)
box(TX0, 486, TX1, 502.5, '#1c1c1c')
txt(1692.7, 494, 'NEXI', size=7.6)
bar_cols = ['#19d019'] * 5 + ['#1030c8', '#1f80d0', '#20e0f0']
for k, (lab, val, col) in enumerate(zip(info_labels, info_values, bar_cols)):
    y0 = 504 + 16 * k
    box(TX0, y0, TX1, y0 + 15.3, '#383838')
    box(TX0, y0, TX0 + 3, y0 + 15.3, col, z=2)
    txt(1692.3, y0 + 7.9, lab, size=7.6)
    txt(1798, y0 + 7.9, val, ha='right', size=7.6)

box(1675, 740, TX1, 755, '#4a4a4a', alpha=0.85)
box(1675, 740, 1678, 755, '#1030c8', z=2)
txt(1682, 747.7, 'CutlerRSI', size=7.6)
txt(1798, 747.7, '81.339', ha='right', size=7.6)

box(TX0, 786, TX1, 801, '#383838')
box(TX0, 786, TX0 + 3.5, 801, '#1030c8', z=2)
txt(1693, 793.7, 'MACD', size=7.6)
txt(1798, 793.7, '0.971', ha='right', size=7.6)
box(TX0, 802, TX1, 817, '#3c3c3c', alpha=0.9)
box(TX0, 802, TX0 + 3.5, 817, '#e06a10', z=2)
txt(1694, 809.7, 'Signal', size=7.6)
txt(1798, 809.7, '0.772', ha='right', size=7.6)
box(1689, 818, TX1, 833, '#383838')
txt(1693, 825.7, 'Diff', size=7.6)
txt(1798, 825.7, '0.199', ha='right', size=7.6)

# last price tag
ov.add_patch(Polygon([(1815, 109), (1819, 103), (1860, 103), (1860, 116), (1819, 116)],
                     facecolor='#d2d2d2', edgecolor='none', zorder=3))
txt(1839.5, 109.7, '17.620', ha='center', size=7.8, color='#202020', weight='normal')

# splitter handles
for yc in (647.5, 771):
    for d in (-2, 0, 2):
        ov.plot([896, 916], [yc + d, yc + d], color='white', lw=0.8, zorder=3, solid_capstyle='butt')

fig.savefig('out.png', dpi=100, facecolor=BG)
